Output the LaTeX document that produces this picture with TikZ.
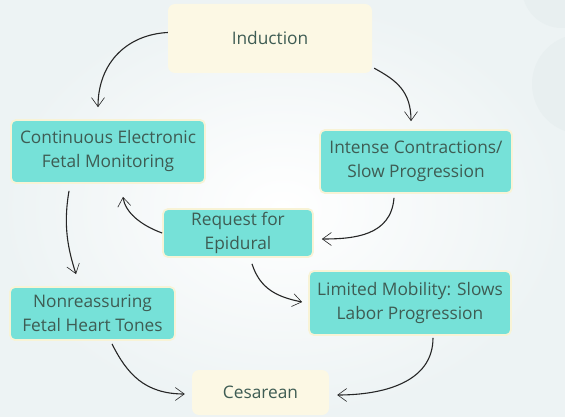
\documentclass[tikz,border=0pt]{standalone}
\usepackage{fontspec}
\setmainfont{Open Sans}
\usetikzlibrary{arrows.meta,calc}
\definecolor{teal}{HTML}{76E1D8}
\definecolor{cream}{HTML}{FCF8E4}
\definecolor{rim}{HTML}{F8F3D6}
\definecolor{txt}{HTML}{3E5C53}
\definecolor{bgout}{HTML}{EDF3F4}
\definecolor{blob}{HTML}{E8EFF0}
\begin{document}
\begin{tikzpicture}[x=1pt,y=-1pt,
  box/.style={rounded corners=5pt,align=center,inner sep=0pt,text=txt,font=\fontsize{17.3}{24}\selectfont},
  tealbox/.style={box,fill=teal,draw=rim,line width=1.8pt},
  creambox/.style={box,fill=cream,draw=none,rounded corners=7pt},
  arr/.style={line width=1.1pt,black!85,-{Straight Barb[length=9pt,width=13pt,line width=0.6pt]}}]
\useasboundingbox (0,0) rectangle (565,417);
\shade[inner color=white,outer color=bgout] (0,0) rectangle (565,417);
\fill[blob] (562,-12) circle[radius=40];
\fill[blob] (582,84) circle[radius=50];
\node[creambox,minimum width=204pt,minimum height=69pt] (ind) at (270,38.5) {Induction};
\node[tealbox,minimum width=194pt,minimum height=63pt] (cefm) at (108,151.5) {Continuous Electronic\\Fetal Monitoring};
\node[tealbox,minimum width=192pt,minimum height=63pt] (icsp) at (416,161.5) {Intense Contractions/\\Slow Progression};
\node[tealbox,minimum width=150pt,minimum height=48pt] (rfe) at (238,233) {Request for\\Epidural};
\node[tealbox,minimum width=202pt,minimum height=64pt] (lm) at (410,303) {Limited Mobility: Slows\\Labor Progression};
\node[tealbox,minimum width=165pt,minimum height=53pt] (nft) at (92.5,313.5) {Nonreassuring\\Fetal Heart Tones};
\node[creambox,minimum width=137pt,minimum height=45pt] (ces) at (260.5,392.5) {Cesarean};
\draw[arr] ($(ind.west)+(0,-6)$) .. controls +(-40,2) and +(0,-45) .. ($(cefm.north)+(-10,-12)$);
\draw[arr] ($(ind.south east)+(2,-5)$) .. controls +(22,12) and +(0,-30) .. ($(icsp.north)+(-5,-8)$);
\draw[arr] ($(cefm.south)+(-39,7)$) .. controls +(-6,35) and +(-8,-25) .. ($(nft.north)+(-16.5,-12)$);
\draw[arr] (rfe.west) .. controls +(-22,-8) and +(2,15) .. ($(cefm.south)+(15,13)$);
\draw[arr] ($(icsp.south)+(-22,4)$) .. controls +(-3,38) and +(32,0) .. ($(rfe.east)+(8,6)$);
\draw[arr] ($(rfe.south)+(14,6)$) .. controls +(8,25) and +(-25,-5) .. ($(lm.west)+(-6,-1)$);
\draw[arr] ($(nft.south)+(19.5,3)$) .. controls +(15,30) and +(-40,0) .. ($(ces.west)+(-7,1.5)$);
\draw[arr] ($(lm.south)+(23,2)$) .. controls +(0,45) and +(45,0) .. ($(ces.east)+(8,2.5)$);
\end{tikzpicture}
\end{document}
